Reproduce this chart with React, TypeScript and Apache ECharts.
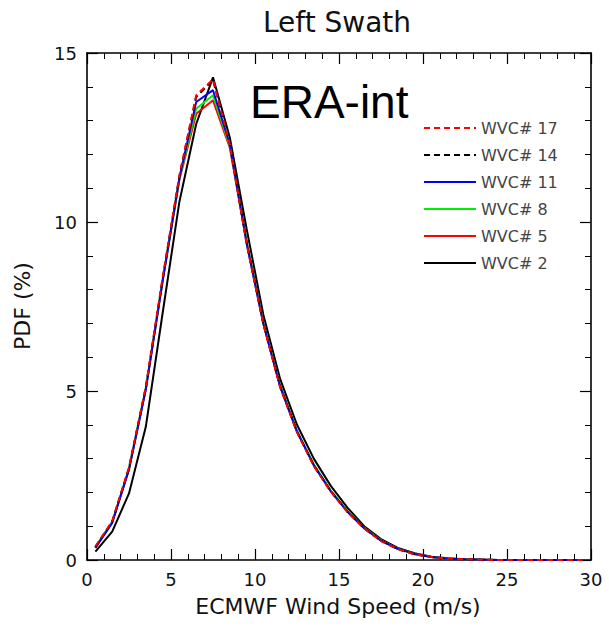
import React, { useEffect, useRef } from "react";
import * as echarts from "echarts";

// Bin centres of wind speed (m/s)
const windSpeed = [
  0.5, 1.5, 2.5, 3.5, 4.5, 5.5, 6.5, 7.5, 8.5, 9.5, 10.5, 11.5, 12.5, 13.5, 14.5,
  15.5, 16.5, 17.5, 18.5, 19.5, 20.5, 21.5, 22.5, 23.5, 24.5, 25.5, 26.5, 27.5, 28.5, 29.5,
];

// PDF (%) per WVC
const wvc2 = [0.25, 0.84, 1.97, 3.94, 7.3, 10.6, 12.9, 14.28, 12.5, 9.8, 7.25, 5.35, 4.0, 3.0, 2.2, 1.55, 1.0, 0.62, 0.36, 0.2, 0.1, 0.05, 0.02, 0.01, 0, 0, 0, 0, 0, 0];
const wvc5 = [0.38, 1.12, 2.68, 5.05, 8.25, 11.25, 13.2, 13.6, 12.2, 9.4, 7.0, 5.15, 3.8, 2.82, 2.05, 1.45, 0.95, 0.58, 0.33, 0.18, 0.09, 0.04, 0.02, 0.01, 0, 0, 0, 0, 0, 0];
const wvc8 = [0.37, 1.12, 2.7, 5.08, 8.28, 11.28, 13.35, 13.75, 12.25, 9.42, 7.02, 5.15, 3.82, 2.83, 2.06, 1.45, 0.95, 0.58, 0.33, 0.18, 0.09, 0.04, 0.02, 0.01, 0, 0, 0, 0, 0, 0];
const wvc11 = [0.36, 1.1, 2.68, 5.05, 8.25, 11.3, 13.55, 13.9, 12.3, 9.38, 6.98, 5.12, 3.8, 2.8, 2.04, 1.43, 0.94, 0.57, 0.33, 0.18, 0.09, 0.04, 0.02, 0.01, 0, 0, 0, 0, 0, 0];
const wvc14 = [0.38, 1.13, 2.72, 5.1, 8.3, 11.35, 13.7, 14.2, 12.35, 9.4, 7.0, 5.13, 3.8, 2.8, 2.04, 1.43, 0.94, 0.57, 0.32, 0.17, 0.09, 0.04, 0.02, 0.01, 0, 0, 0, 0, 0, 0];
const wvc17 = [0.4, 1.15, 2.74, 5.12, 8.35, 11.38, 13.75, 14.22, 12.3, 9.35, 6.97, 5.1, 3.78, 2.78, 2.03, 1.42, 0.93, 0.56, 0.32, 0.17, 0.09, 0.04, 0.02, 0.01, 0, 0, 0, 0, 0, 0];

const seriesNames = ["WVC# 2", "WVC# 5", "WVC# 8", "WVC# 11", "WVC# 14", "WVC# 17"];
const legendOrder = ["WVC# 17", "WVC# 14", "WVC# 11", "WVC# 8", "WVC# 5", "WVC# 2"];

const xTicksMax = 30;
const yTicksMax = 15;

export default function App() {
  const ref = useRef<HTMLDivElement>(null);

  useEffect(() => {
    if (!ref.current) return;
    const chart = echarts.init(ref.current, null, { renderer: "svg" });
    const pair = (vals: number[]) => windSpeed.map((x, i) => [x, vals[i]]);
    const font = "DejaVu Sans";

    const axisCommon = (show: boolean) => ({
      type: "value" as const,
      axisLine: { show: true, onZero: false, lineStyle: { color: "#000", width: 1.6 } },
      axisTick: { show: true, inside: true, length: 11, lineStyle: { color: "#000", width: 1.2 } },
      minorTick: { show: true, splitNumber: 5, length: 6, lineStyle: { color: "#000", width: 1 } },
      splitLine: { show: false },
      minorSplitLine: { show: false },
      axisLabel: { show, fontSize: 18, color: "#111", fontFamily: font, margin: 10 },
    });

    const mk = (name: string, vals: number[], color: string, dashed: boolean) => ({
      name,
      type: "line" as const,
      data: pair(vals),
      symbol: "none",
      showSymbol: false,
      lineStyle: { color, width: 2, type: dashed ? [6, 4] : "solid" },
      itemStyle: { color },
      xAxisIndex: 0,
      yAxisIndex: 0,
    });

    chart.setOption({
      animation: false,
      backgroundColor: "#fff",
      grid: { left: 87, right: 18, top: 53, bottom: 67, containLabel: false },
      xAxis: [
        { ...axisCommon(true), min: 0, max: xTicksMax, interval: 5, position: "bottom" },
        { ...axisCommon(false), min: 0, max: xTicksMax, interval: 5, position: "top" },
      ],
      yAxis: [
        { ...axisCommon(true), min: 0, max: yTicksMax, interval: 5, position: "left" },
        { ...axisCommon(false), min: 0, max: yTicksMax, interval: 5, position: "right" },
      ],
      legend: {
        orient: "vertical",
        left: 423,
        top: 120,
        padding: 0,
        itemWidth: 52,
        itemHeight: 14,
        itemGap: 11,
        data: legendOrder,
        itemStyle: { opacity: 0 },
        textStyle: { fontSize: 16, color: "#444", fontFamily: font },
      },
      series: [
        mk(seriesNames[0], wvc2, "#000000", false),
        mk(seriesNames[1], wvc5, "#ff0000", false),
        mk(seriesNames[2], wvc8, "#00ee00", false),
        mk(seriesNames[3], wvc11, "#0000ff", false),
        mk(seriesNames[4], wvc14, "#000000", true),
        mk(seriesNames[5], wvc17, "#ff0000", true),
      ],
      graphic: [
        {
          type: "text",
          x: 337,
          y: 22,
          style: { text: "Left Swath", fontSize: 28, fontFamily: font, fill: "#111", align: "center", verticalAlign: "middle" },
        },
        {
          type: "text",
          x: 250,
          y: 79,
          style: { text: "ERA-int", fontSize: 46, fontFamily: "Liberation Sans", fill: "#000", align: "left", verticalAlign: "top" },
        },
        {
          type: "text",
          x: 338,
          y: 606,
          style: { text: "ECMWF Wind Speed (m/s)", fontSize: 22, fontFamily: font, fill: "#111", align: "center", verticalAlign: "middle" },
        },
        {
          type: "text",
          x: 22,
          y: 306,
          rotation: Math.PI / 2,
          style: { text: "PDF (%)", fontSize: 22, fontFamily: font, fill: "#111", align: "center", verticalAlign: "middle" },
        },
      ],
    });
    return () => chart.dispose();
  }, []);

  return (
    <div
      ref={ref}
      style={{ position: "fixed", left: 0, top: 0, width: 609, height: 627, background: "#fff" }}
    />
  );
}
